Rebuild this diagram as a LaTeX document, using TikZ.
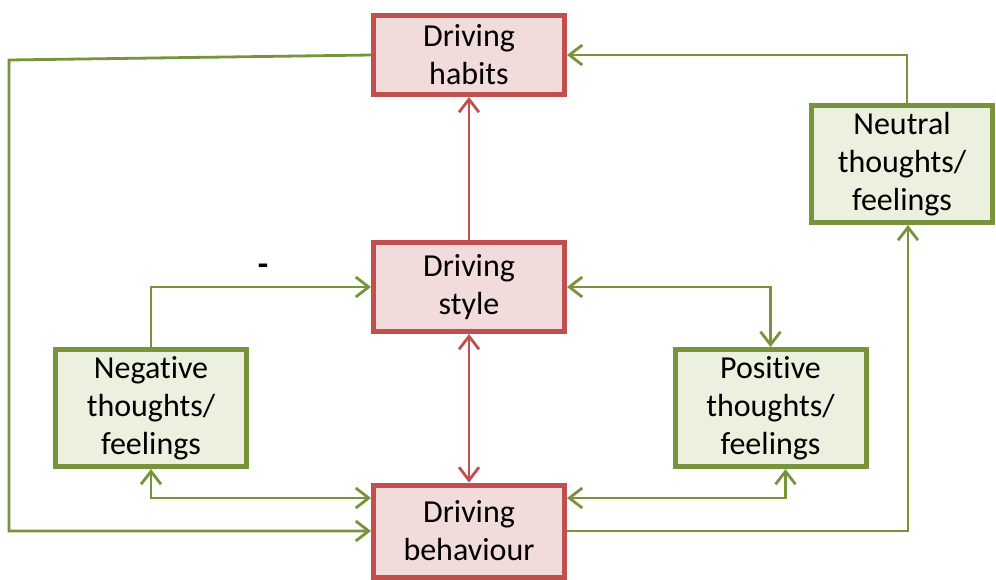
\documentclass[tikz,border=0pt]{standalone}
\usepackage{fontspec}
\setmainfont{Carlito}[Ligatures={NoCommon,NoDiscretionary,NoRare}]
\usetikzlibrary{arrows.meta}
\definecolor{rborder}{HTML}{C0504D}
\definecolor{rfill}{HTML}{F2DCDB}
\definecolor{gborder}{HTML}{77933C}
\definecolor{gfill}{HTML}{EBF1DE}
\tikzset{
  boxfont/.style={font=\fontsize{32}{38}\selectfont},
  redbox/.style={draw=rborder, fill=rfill, line width=5pt, minimum width=191pt, inner sep=0pt, align=center, boxfont},
  greenbox/.style={draw=gborder, fill=gfill, line width=5pt, minimum width=191pt, minimum height=117pt, inner sep=0pt, align=center, boxfont},
  garr/.style={draw=gborder, line width=2.8pt, -{Straight Barb[length=13pt,width=20pt]}},
  gboth/.style={draw=gborder, line width=2.8pt, {Straight Barb[length=13pt,width=20pt]}-{Straight Barb[length=13pt,width=20pt]}},
  rarr/.style={draw=rborder, line width=2.8pt, -{Straight Barb[length=13pt,width=20pt]}},
  rboth/.style={draw=rborder, line width=2.8pt, {Straight Barb[length=13pt,width=20pt]}-{Straight Barb[length=13pt,width=20pt]}},
}
\begin{document}
\begin{tikzpicture}[x=1pt,y=-1pt]
\useasboundingbox (0,0) rectangle (996,580);
\node[redbox, minimum height=79pt] (habits) at (469,55) {Driving\\habits};
\node[redbox, minimum height=89pt] (style) at (469,287) {Driving\\style};
\node[redbox, minimum height=92pt] (behav) at (469,531) {Driving\\behaviour};
\node[greenbox] (neg) at (151,408) {Negative\\thoughts/\\feelings};
\node[greenbox] (pos) at (770.5,408) {Positive\\thoughts/\\feelings};
\node[greenbox, minimum width=181pt] (neu) at (902,164) {Neutral\\thoughts/\\feelings};
\node[font=\fontsize{34}{38}\selectfont\bfseries, inner sep=0pt] (minus) at (263,270) {-};
\coordinate (hl) at (9,60);
% connectors
\draw[garr] (habits.west) -- (hl) -- (hl |- behav.west) -- (behav.west);
\draw[garr] ([xshift=5pt]neu.north) |- (habits.east);
\draw[garr] (behav.east) -| ([xshift=6pt]neu.south);
\draw[rarr] (style.north) -- (habits.south);
\draw[rboth] (style.south) -- (behav.north);
\draw[garr] (neg.north) |- (style.west);
\draw[gboth] (neg.south) |- ([yshift=33pt]behav.west);
\draw[gboth] (style.east) -| (pos.north);
\draw[gboth] ([xshift=15pt]pos.south) |- ([yshift=33pt]behav.east);
\end{tikzpicture}
\end{document}
